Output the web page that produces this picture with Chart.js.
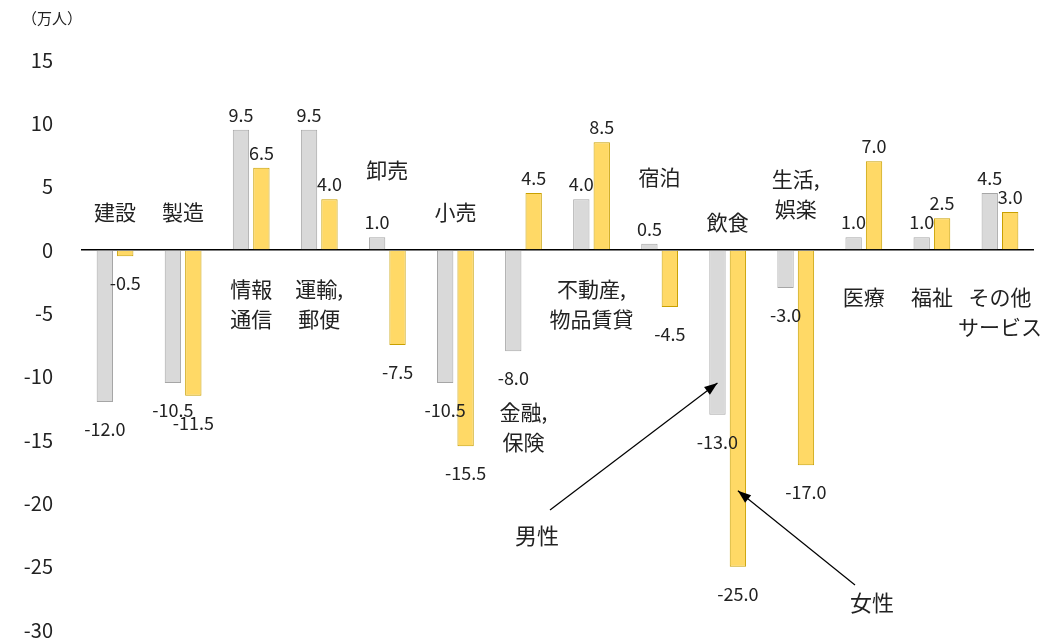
<!DOCTYPE html>
<html><head><meta charset="utf-8">
<script src="https://cdn.jsdelivr.net/npm/chart.js@4"></script>
<style>html,body{margin:0;background:#fff;overflow:hidden}#wrap{width:1054px;height:670px}</style>
</head><body><div id="wrap"><canvas id="c"></canvas></div>
<script>
var categories = ['建設', '製造', '情報\n通信', '運輸,\n郵便', '卸売', '小売', '金融,\n保険', '不動産,\n物品賃貸', '宿泊', '飲食', '生活,\n娯楽', '医療', '福祉', 'その他\nサービス'];
var male = [-12.0, -10.5, 9.5, 9.5, 1.0, -10.5, -8.0, 4.0, 0.5, -13.0, -3.0, 1.0, 1.0, 4.5];
var female = [-0.5, -11.5, 6.5, 4.0, -7.5, -15.5, 4.5, 8.5, -4.5, -25.0, -17.0, 7.0, 2.5, 3.0];
var yTicks = [15, 10, 5, 0, -5, -10, -15, -20, -25, -30];
// where each category name sits, in axis units
var catLabelAt = [3.0, 3.0, -4.3, -4.3, 6.3, 3.0, -14, -4.3, 5.8, 2.2, 4.4, -3.7, -3.7, -4.9];

var FONT = "'Noto Sans CJK JP', 'Noto Sans', sans-serif";

var labelsPlugin = {
  id: 'labels',
  afterDatasetsDraw: function(chart) {
    var ctx = chart.ctx, y = chart.scales.y;
    ctx.save();
    ctx.fillStyle = '#222';
    ctx.textAlign = 'center';
    ctx.font = '18px ' + FONT;
    chart.data.datasets.forEach(function(ds, di) {
      chart.getDatasetMeta(di).data.forEach(function(bar, i) {
        var v = ds.data[i];
        ctx.textBaseline = v >= 0 ? 'bottom' : 'top';
        ctx.fillText(v.toFixed(1), bar.x, v >= 0 ? bar.y - 6 : bar.y + 18);
      });
    });
    ctx.font = '21px ' + FONT;
    ctx.textBaseline = 'middle';
    var meta = chart.getDatasetMeta(0), meta2 = chart.getDatasetMeta(1);
    categories.forEach(function(c, i) {
      var cx = (meta.data[i].x + meta2.data[i].x) / 2;
      var lines = c.split('\n');
      var cy = y.getPixelForValue(catLabelAt[i]) - (lines.length - 1) * 15;
      lines.forEach(function(l, k) { ctx.fillText(l, cx, cy + k * 30); });
    });
    // unit
    ctx.font = '15px ' + FONT;
    ctx.textAlign = 'left';
    ctx.fillText('（万人）', 22, 18);
    // arrows to 飲食 bars
    var mb = meta.data[9], fb = meta2.data[9];
    function arrow(x1, y1, x2, y2) {
      ctx.strokeStyle = '#000'; ctx.fillStyle = '#000'; ctx.lineWidth = 1.2;
      ctx.beginPath(); ctx.moveTo(x1, y1); ctx.lineTo(x2, y2); ctx.stroke();
      var a = Math.atan2(y2 - y1, x2 - x1);
      ctx.beginPath(); ctx.moveTo(x2, y2);
      ctx.lineTo(x2 - 14 * Math.cos(a - 0.35), y2 - 14 * Math.sin(a - 0.35));
      ctx.lineTo(x2 - 14 * Math.cos(a + 0.35), y2 - 14 * Math.sin(a + 0.35));
      ctx.closePath(); ctx.fill();
    }
    arrow(550, 510, mb.x, y.getPixelForValue(-10.5));
    arrow(855, 585, fb.x, y.getPixelForValue(-19));
    ctx.fillStyle = '#222';
    ctx.font = '22px ' + FONT;
    ctx.textAlign = 'center';
    ctx.fillText('男性', 537, 536);
    ctx.fillText('女性', 872, 603);
    ctx.restore();
  }
};

new Chart(document.getElementById('c'), {
  type: 'bar',
  data: {
    labels: categories,
    datasets: [
      { label: '男性', data: male, backgroundColor: '#d9d9d9', borderColor: '#a6a6a6', borderWidth: 1 },
      { label: '女性', data: female, backgroundColor: '#ffd966', borderColor: '#c9a000', borderWidth: 1 }
    ]
  },
  options: {
    responsive: true,
    maintainAspectRatio: false,
    animation: false,
    categoryPercentage: 0.6,
    barPercentage: 0.8,
    layout: { padding: { top: 60, bottom: 10, right: 20 } },
    plugins: { legend: { display: false }, tooltip: { enabled: false } },
    scales: {
      x: { display: false },
      y: {
        min: -30, max: 15,
        afterFit: function(s) { s.width = 81; },
        afterBuildTicks: function(s) { s.ticks = yTicks.map(function(v) { return { value: v }; }); },
        border: { display: false },
        grid: {
          drawTicks: false,
          color: function(c) { return c.tick && c.tick.value === 0 ? '#000' : 'rgba(0,0,0,0)'; },
          lineWidth: 1.5
        },
        ticks: { color: '#222', font: { size: 20, family: FONT }, padding: 28, align: 'center' }
      }
    }
  },
  plugins: [labelsPlugin]
});
</script>
</body></html>
